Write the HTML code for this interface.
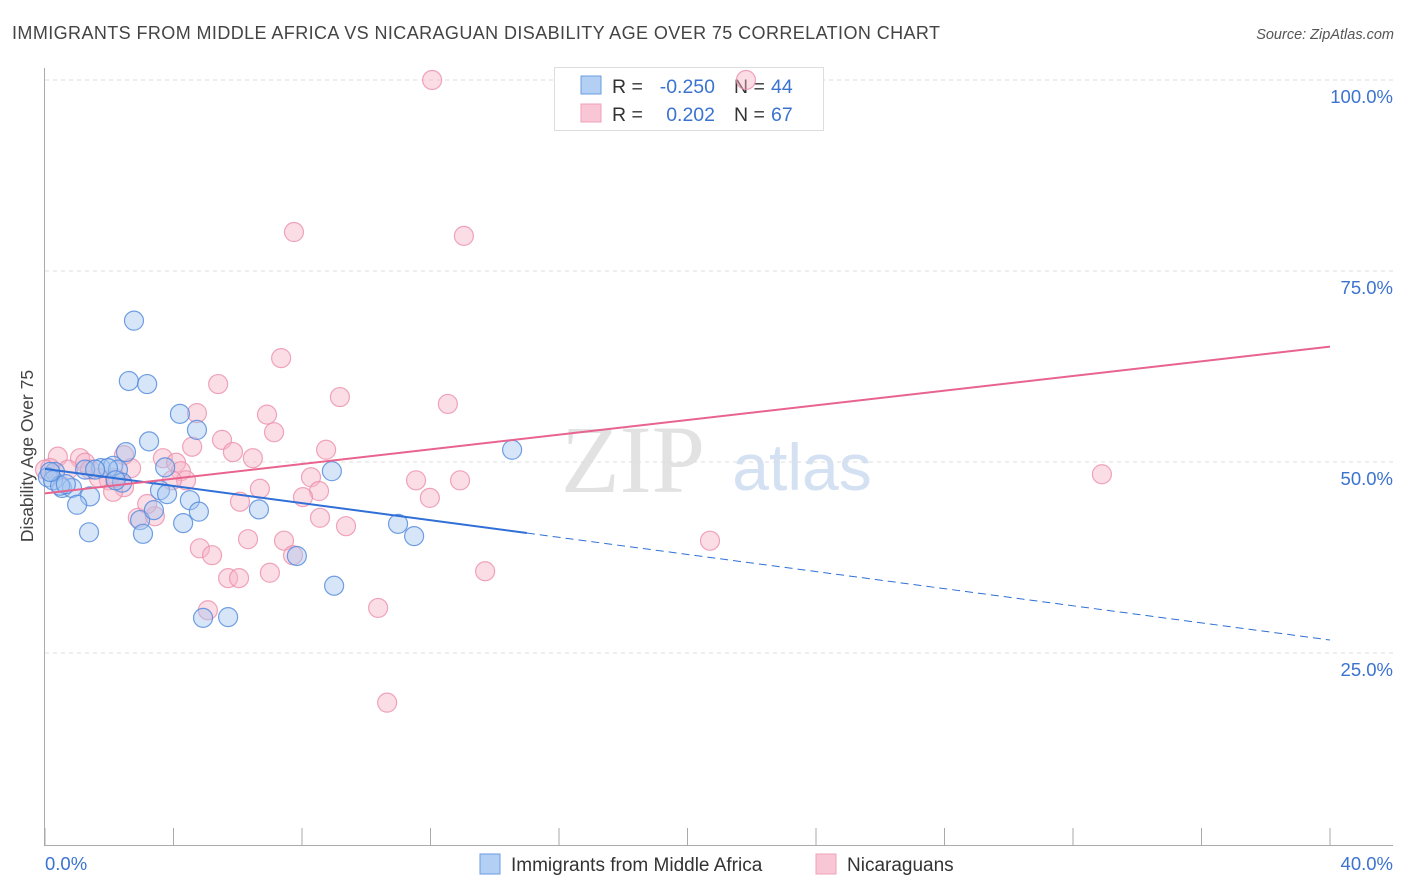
<!DOCTYPE html>
<html><head><meta charset="utf-8"><style>
body{margin:0;background:#fff;font-family:"Liberation Sans",sans-serif;}
svg{display:block}
</style></head><body>
<svg id="chart" width="1406" height="892">
<text x="12" y="39" font-size="18" fill="#444" textLength="928">IMMIGRANTS FROM MIDDLE AFRICA VS NICARAGUAN DISABILITY AGE OVER 75 CORRELATION CHART</text>
<text x="1394" y="39" font-size="14.5" fill="#555" font-style="italic" text-anchor="end">Source: ZipAtlas.com</text>
<g>
<text x="633" y="492" font-size="96" font-family="Liberation Serif,serif" fill="#e2e2e2" text-anchor="middle">ZIP</text>
<text x="802" y="490" font-size="66" fill="#d3e1f3" text-anchor="middle">atlas</text>
</g>
<g id="grid"></g><g id="axes"></g>
<g>
<rect x="554.5" y="67.5" width="269" height="63" fill="#fff" stroke="#ddd"/>
<rect x="581" y="76" width="20" height="18" fill="#b3cff3" stroke="#6b9de0"/>
<rect x="581" y="104" width="20" height="18" fill="#f9c6d5" stroke="#efa0b8"/>
<text x="612" y="93" font-size="19.5" fill="#333">R =</text>
<text x="715" y="93" font-size="19.5" fill="#3b73d0" text-anchor="end">-0.250</text>
<text x="734" y="93" font-size="19.5" fill="#333">N =</text>
<text x="771" y="93" font-size="19.5" fill="#3b73d0">44</text>
<text x="612" y="121" font-size="19.5" fill="#333">R =</text>
<text x="715" y="121" font-size="19.5" fill="#3b73d0" text-anchor="end">0.202</text>
<text x="734" y="121" font-size="19.5" fill="#333">N =</text>
<text x="771" y="121" font-size="19.5" fill="#3b73d0">67</text>
</g>
<g id="pts"></g><g id="lines"></g>
<text x="33" y="456" font-size="17.5" fill="#444" text-anchor="middle" transform="rotate(-90 33 456)">Disability Age Over 75</text>
<text x="45" y="870" font-size="18.5" fill="#3b73d0">0.0%</text>
<text x="1393" y="870" font-size="18.5" fill="#3b73d0" text-anchor="end">40.0%</text>
<g>
<rect x="480" y="854" width="20" height="20" fill="#b3cff3" stroke="#6b9de0"/>
<text x="511" y="871" font-size="19" fill="#333">Immigrants from Middle Africa</text>
<rect x="816" y="854" width="20" height="20" fill="#f9c6d5" stroke="#efa0b8"/>
<text x="847" y="871" font-size="19" fill="#333">Nicaraguans</text>
</g>
</svg>
<script>
const yTicks=[25,50,75,100];
const yTickLabels=["25.0%","50.0%","75.0%","100.0%"];
const xTicks=[0,4,8,12,16,20,24,28,32,36,40];
const blueX=[2.77,2.61,3.18,4.20,4.73,3.24,2.52,0.31,0.09,0.53,0.84,1.40,1.00,1.37,1.74,2.12,2.27,1.96,2.40,3.58,3.80,4.51,4.79,4.30,2.96,3.05,3.39,3.74,6.66,7.84,9.00,4.92,5.70,8.93,10.99,11.49,14.54,0.25,0.47,1.25,1.56,0.16,0.65,2.2];
const blueY=[68.5,60.6,60.2,56.3,54.2,52.7,51.3,48.7,48.0,46.6,46.6,45.5,44.4,40.8,49.2,49.5,49.0,49.2,47.3,46.3,45.8,45.0,43.5,42.0,42.4,40.6,43.7,49.3,43.8,37.7,33.8,29.6,29.7,48.8,41.9,40.3,51.6,47.6,46.9,49.0,49.0,48.7,47.1,47.6];
const pinkX=[12.05,21.82,7.75,13.04,7.35,5.39,9.18,12.54,4.73,6.91,7.13,5.51,5.85,4.58,8.75,6.47,2.46,0.40,1.09,1.25,2.68,3.67,4.08,4.23,4.39,1.99,1.68,0.72,0.16,6.69,8.28,8.53,8.03,6.07,11.55,12.92,11.98,32.90,2.89,3.42,3.95,3.18,2.46,2.12,8.56,9.37,4.82,5.20,6.32,7.44,7.72,5.70,6.04,7.00,13.70,5.07,10.37,10.65,20.70,0,1.40,2.18];
const pinkY=[100,100,80.1,79.6,63.6,60.2,58.5,57.6,56.4,56.2,53.9,52.9,51.3,52.0,51.6,50.5,50.9,50.7,50.5,49.9,49.2,50.5,49.9,48.8,47.6,47.6,47.9,49.0,49.2,46.5,48.0,46.2,45.4,44.8,47.6,47.6,45.3,48.4,42.7,42.9,47.6,44.5,46.7,46.1,42.7,41.6,38.7,37.8,39.9,39.7,37.8,34.8,34.8,35.5,35.7,30.6,30.9,18.5,39.7,49.0,49.0,47.9];
const blueFit=[49.1,26.7];
const blueSolidEnd=15;
const pinkFit=[45.9,65.1];
const NS="http://www.w3.org/2000/svg";
const sx=v=>45+v*32.125, sy=v=>844-v*7.64;
function mk(tag,attrs,parent){const e=document.createElementNS(NS,tag);for(const k in attrs)e.setAttribute(k,attrs[k]);parent.appendChild(e);return e;}
const grid=document.getElementById('grid'),axes=document.getElementById('axes'),pts=document.getElementById('pts'),lines=document.getElementById('lines');
yTicks.forEach((t,i)=>{
 const l=mk('line',{x1:45,x2:1393,y1:sy(t),y2:sy(t),stroke:'#ddd','stroke-dasharray':'4 4'},grid);
 
 
 const tx=mk('text',{x:1393,y:sy(t)+23,'font-size':18.5,fill:'#3b73d0','text-anchor':'end'},grid);
 tx.textContent=yTickLabels[i];
 
 
});
const ya=mk('line',{x1:44.5,x2:44.5,y1:68,y2:845,stroke:'#aaa'},axes);


const xa=mk('line',{x1:44,x2:1393,y1:845.5,y2:845.5,stroke:'#aaa'},axes);


xTicks.forEach(t=>{
 const l=mk('line',{x1:sx(t),x2:sx(t),y1:828,y2:845,stroke:'#aaa'},axes);
 
 
});
function dots(X,Y,fill,stroke,name){X.forEach((x,i)=>{
 const c=mk('circle',{cx:sx(x),cy:sy(Y[i]),r:9.5,fill:fill,'fill-opacity':0.45,stroke:stroke,'stroke-opacity':0.8,'stroke-width':1.2},pts);
 
 
});}
dots(pinkX,pinkY,'#f6b4c8','#ec8fac','nicaraguan-point');
dots(blueX,blueY,'#a6c6f0','#4f88dc','middle-africa-point');
const bAt=x=>blueFit[0]+(blueFit[1]-blueFit[0])*x/40, pAt=x=>pinkFit[0]+(pinkFit[1]-pinkFit[0])*x/40;
const b1=mk('line',{x1:sx(0),y1:sy(bAt(0)),x2:sx(blueSolidEnd),y2:sy(bAt(blueSolidEnd)),stroke:'#2f6fd6','stroke-width':2},lines);


const b2=mk('line',{x1:sx(blueSolidEnd),y1:sy(bAt(blueSolidEnd)),x2:sx(40),y2:sy(bAt(40)),stroke:'#2f6fd6','stroke-width':1,'stroke-dasharray':'8 5'},lines);


const p1=mk('line',{x1:sx(0),y1:sy(pAt(0)),x2:sx(40),y2:sy(pAt(40)),stroke:'#e8638e','stroke-width':2},lines);


</script>
</body></html>
